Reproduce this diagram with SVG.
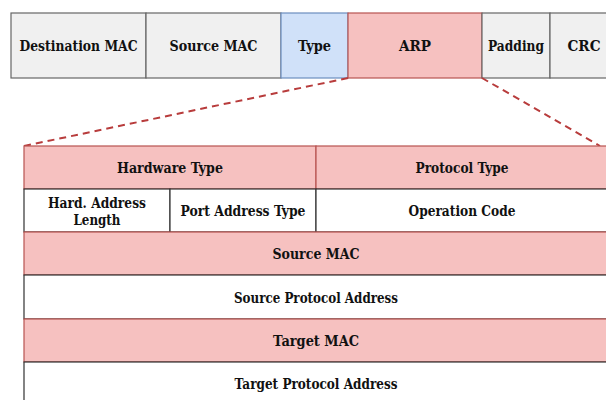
<svg xmlns="http://www.w3.org/2000/svg" width="606" height="400" viewBox="0 0 606 400">
<style>
text{font-family:"DejaVu Serif",serif;font-weight:bold;font-size:14.5px;fill:#111;text-anchor:middle;dominant-baseline:central}
.gray{fill:#f0f0f0;stroke:#666;stroke-width:1.2}
.blue{fill:#d0e1f9;stroke:#6c8ebf;stroke-width:1.2}
.pink{fill:#f6c1c0;stroke:#b85450;stroke-width:1.2}
.white{fill:#fff;stroke:#333;stroke-width:1.2}
.dash{fill:none;stroke:#b83c3c;stroke-width:2;stroke-dasharray:7 5}
</style>
<g font-family="DejaVu Serif, serif">
<g id="frame">
<g id="dest-mac"><rect class="gray" x="11" y="13" width="135" height="65"/><text x="78.5" y="45.5" textLength="118" lengthAdjust="spacingAndGlyphs">Destination MAC</text></g>
<g id="src-mac"><rect class="gray" x="146" y="13" width="135" height="65"/><text x="213.5" y="45.5" textLength="88" lengthAdjust="spacingAndGlyphs">Source MAC</text></g>
<g id="type"><rect class="blue" x="281" y="13" width="67" height="65"/><text x="314.5" y="45.5" textLength="33" lengthAdjust="spacingAndGlyphs">Type</text></g>
<g id="arp"><rect class="pink" x="348" y="13" width="134" height="65"/><text x="415" y="45.5" textLength="32" lengthAdjust="spacingAndGlyphs">ARP</text></g>
<g id="padding"><rect class="gray" x="482" y="13" width="68" height="65"/><text x="516" y="45.5" textLength="56" lengthAdjust="spacingAndGlyphs">Padding</text></g>
<g id="crc"><rect class="gray" x="550" y="13" width="68" height="65"/><text x="584" y="45.5" textLength="33" lengthAdjust="spacingAndGlyphs">CRC</text></g>
</g>
<g id="connectors">
<path class="dash" d="M348 78 L24 146"/>
<path class="dash" d="M482 78 L600 146"/>
</g>
<g id="arp-table">
<g id="hw-type"><rect class="pink" x="24" y="146" width="292" height="43"/><text x="170" y="167.5" textLength="106" lengthAdjust="spacingAndGlyphs">Hardware Type</text></g>
<g id="proto-type"><rect class="pink" x="316" y="146" width="300" height="43"/><text x="462" y="167.5" textLength="93" lengthAdjust="spacingAndGlyphs">Protocol Type</text></g>
<g id="hard-len"><rect class="white" x="24" y="189" width="146" height="43"/><text x="97" y="202" textLength="98" lengthAdjust="spacingAndGlyphs">Hard. Address</text><text x="97" y="219" textLength="47" lengthAdjust="spacingAndGlyphs">Length</text></g>
<g id="port-type"><rect class="white" x="170" y="189" width="146" height="43"/><text x="243" y="210.5" textLength="125" lengthAdjust="spacingAndGlyphs">Port Address Type</text></g>
<g id="op-code"><rect class="white" x="316" y="189" width="300" height="43"/><text x="462" y="210.5" textLength="107" lengthAdjust="spacingAndGlyphs">Operation Code</text></g>
<g id="source-mac"><rect class="pink" x="24" y="232" width="592" height="43"/><text x="316" y="253.5" textLength="87" lengthAdjust="spacingAndGlyphs">Source MAC</text></g>
<g id="src-proto"><rect class="white" x="24" y="275" width="592" height="44"/><text x="316" y="297" textLength="164" lengthAdjust="spacingAndGlyphs">Source Protocol Address</text></g>
<g id="target-mac"><rect class="pink" x="24" y="319" width="592" height="43"/><text x="316" y="340.5" textLength="86" lengthAdjust="spacingAndGlyphs">Target MAC</text></g>
<g id="tgt-proto"><rect class="white" x="24" y="362" width="592" height="43"/><text x="316" y="383.5" textLength="163" lengthAdjust="spacingAndGlyphs">Target Protocol Address</text></g>
</g>
</g>
</svg>
